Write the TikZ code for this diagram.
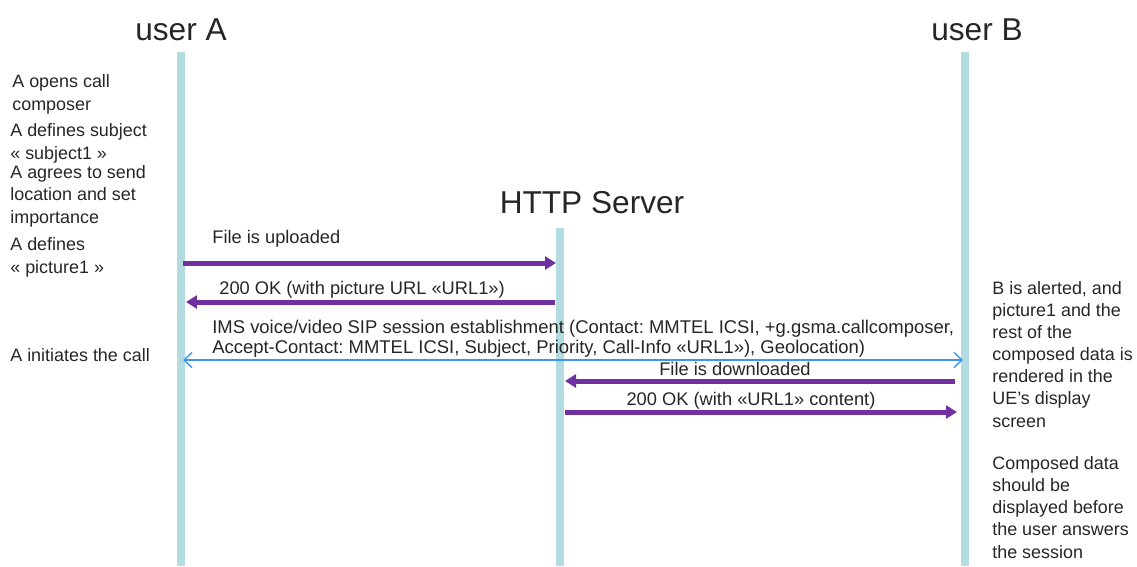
\documentclass[tikz,border=0pt]{standalone}
\usepackage{fontspec}
\setmainfont{Liberation Sans}
\frenchspacing
\usetikzlibrary{arrows.meta}
\definecolor{lifeteal}{RGB}{178,220,224}
\definecolor{msgpurple}{RGB}{112,48,160}
\definecolor{sipblue}{RGB}{60,150,240}
\newcommand{\lifewidth}{0.16cm}
\newcommand{\msgwidth}{0.1cm}
\tikzset{
  lifeline/.style={draw=lifeteal, line width=\lifewidth},
  msg/.style={draw=msgpurple, line width=\msgwidth, -{Triangle[length=0.22cm,width=0.26cm]}},
  sip/.style={draw=sipblue, line width=0.8pt, {Straight Barb[length=0.16cm,width=0.3cm]}-{Straight Barb[length=0.16cm,width=0.3cm]}},
  title/.style={font=\fontsize{18}{22}\selectfont, text=black!85, anchor=base, inner sep=0},
  note/.style={font=\fontsize{10.2}{12.6}\selectfont, text=black!85, align=left, anchor=base west, inner sep=0},
  label/.style={font=\fontsize{10.4}{11.6}\selectfont, text=black!85, inner sep=0}
}

\begin{document}
\begin{tikzpicture}[x=0.02cm, y=-0.02cm]
\useasboundingbox (0,0) rectangle (1137,566);
% participants
\node[title] (userA) at (181,40) {user A};
\node[title] (userB) at (977,40) {user B};
\node[title] (server) at (592,213) {HTTP Server};
% lifelines
\coordinate (A top) at (181,52);
\coordinate (A bot) at (181,566);
\coordinate (S top) at (560,228);
\coordinate (S bot) at (560,566);
\coordinate (B top) at (965,52);
\coordinate (B bot) at (965,566);
\draw[lifeline] (A top) -- (A bot);
\draw[lifeline] (S top) -- (S bot);
\draw[lifeline] (B top) -- (B bot);
% notes of user A (anchored at last line)
\node[note] (noteA1) at (12,110) {A opens call\\composer};
\node[note] (noteA2) at (10,159) {A defines subject\\« subject1 »};
\node[note] (noteA3) at (10,223) {A agrees to send\\location and set\\importance};
\node[note] (noteA4) at (10,273) {A defines\\« picture1 »};
\node[note] (noteA5) at (10,361) {A initiates the call};
% notes of user B
\node[note] (noteB1) at (992,427) {B is alerted, and\\picture1 and the\\rest of the\\composed data is\\rendered in the\\UE’s display\\screen};
\node[note] (noteB2) at (992,558) {Composed data\\should be\\displayed before\\the user answers\\the session};
% upload
\coordinate (up A) at (183,263);
\coordinate (up S) at (556,263);
\draw[msg] (up A) -- (up S);
\node[label, anchor=base west] (upl) at (212,243) {File is uploaded};
\coordinate (ok S) at (555,302);
\coordinate (ok A) at (186,302);
\draw[msg] (ok S) -- (ok A);
\node[label, anchor=base west] (okl) at (219,294) {200 OK (with picture URL «URL1»)};
% session
\coordinate (sip A) at (183,360);
\coordinate (sip B) at (963,360);
\draw[sip] (sip A) -- (sip B);
\node[label, anchor=base west, font=\fontsize{10.5}{11.6}\selectfont] (sipl1) at (212,333) {IMS voice/video SIP session establishment (Contact: MMTEL ICSI, +g.gsma.callcomposer,};
\node[label, anchor=base west, font=\fontsize{10.5}{11.6}\selectfont] (sipl2) at (212,353) {Accept-Contact: MMTEL ICSI, Subject, Priority, Call-Info «URL1»), Geolocation)};
% download
\coordinate (dl B) at (955,381);
\coordinate (dl S) at (565,381);
\draw[msg] (dl B) -- (dl S);
\node[label, anchor=base] (dll) at (735,375) {File is downloaded};
\coordinate (ok2 S) at (565,412);
\coordinate (ok2 B) at (957,412);
\draw[msg] (ok2 S) -- (ok2 B);
\node[label, anchor=base] (ok2l) at (751,405) {200 OK (with «URL1» content)};
\end{tikzpicture}
\end{document}
